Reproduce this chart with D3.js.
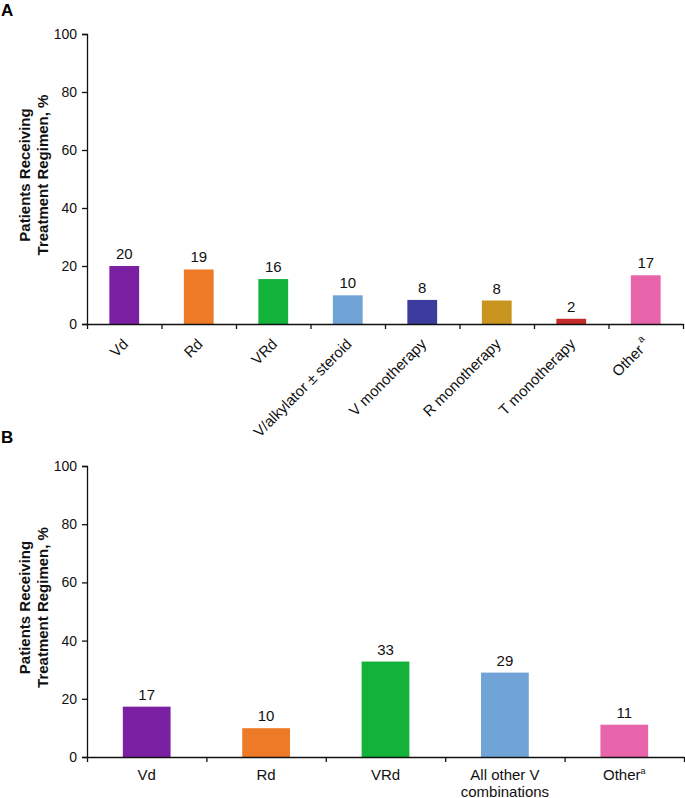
<!DOCTYPE html>
<html>
<head>
<meta charset="utf-8">
<script src="https://cdn.jsdelivr.net/npm/d3@7"></script>
<style>
  body { margin: 0; background: #fff; }
  svg { display: block; font-family: "Liberation Sans", Arial, sans-serif; }
</style>
</head>
<body>
<svg id="chart" width="685" height="798"></svg>
<script>
// ---- Data ----
const categoriesA = ["Vd", "Rd", "VRd", "V/alkylator \u00B1 steroid", "V monotherapy", "R monotherapy", "T monotherapy", "Other"];
const valuesA = [20, 19, 16, 10, 8, 8, 2, 17];
const barHeightsA = [20, 18.8, 15.5, 9.9, 8.3, 8.1, 1.8, 16.8];
const colorsA = ["#7b1fa3", "#ee7a28", "#13b23a", "#70a4d7", "#3c3b9e", "#c9951f", "#c42a2a", "#e864ab"];

const categoriesB = [["Vd"], ["Rd"], ["VRd"], ["All other V", "combinations"], ["Other"]];
const valuesB = [17, 10, 33, 29, 11];
const barHeightsB = [17.3, 9.9, 32.8, 29, 11.1];
const colorsB = ["#7b1fa3", "#ee7a28", "#13b23a", "#70a4d7", "#e864ab"];

const yTicks = [0, 20, 40, 60, 80, 100];
const yTitle = ["Patients Receiving", "Treatment Regimen, %"];
const panelLabels = ["A", "B"];

const svg = d3.select("#chart");

function drawPanel(cfg) {
  const g = svg.append("g");
  const y = d3.scaleLinear().domain([0, 100]).range([cfg.y0, cfg.y100]);
  const x = d3.scaleBand().domain(d3.range(cfg.values.length))
    .range([cfg.x0, cfg.x1]).paddingInner(0.6).paddingOuter(0.3);
  const xt = d3.scaleLinear().domain([0, cfg.values.length]).range([cfg.x0, cfg.x1]);

  // panel letter
  g.append("text").attr("x", 1).attr("y", cfg.letterY)
    .attr("font-size", 17).attr("font-weight", "bold").text(cfg.letter);

  // bars
  g.selectAll("rect.bar").data(cfg.heights).join("rect")
    .attr("x", (d, i) => x(i)).attr("width", x.bandwidth())
    .attr("y", d => y(d)).attr("height", d => y(0) - y(d))
    .attr("fill", (d, i) => cfg.colors[i]);

  // value labels
  g.selectAll("text.val").data(cfg.values).join("text")
    .attr("x", (d, i) => x(i) + x.bandwidth() / 2)
    .attr("y", (d, i) => y(cfg.heights[i]) - 7)
    .attr("text-anchor", "middle").attr("font-size", 15).attr("fill", "#111")
    .text(d => d);

  // y axis
  const ya = g.append("g").attr("transform", `translate(${cfg.x0},0)`)
    .call(d3.axisLeft(y).tickValues(yTicks).tickSizeOuter(0).tickSize(5).tickPadding(5));
  ya.selectAll("text").attr("font-size", 14).attr("fill", "#111").style("font-family", "Liberation Sans, Arial, sans-serif");
  ya.selectAll("line,path").attr("stroke", "#111").attr("stroke-width", 1.3);

  // x axis with boundary ticks
  const xa = g.append("g").attr("transform", `translate(0,${cfg.y0})`)
    .call(d3.axisBottom(xt).tickValues(d3.range(cfg.values.length + 1)).tickFormat("").tickSize(5).tickSizeOuter(0));
  xa.selectAll("line,path").attr("stroke", "#111").attr("stroke-width", 1.3);

  // y title
  const cy = (cfg.y0 + cfg.y100) / 2 - 4;
  yTitle.forEach((t, k) => {
    g.append("text")
      .attr("transform", `translate(${30 + k * 18},${cy}) rotate(-90)`)
      .attr("text-anchor", "middle").attr("font-size", 15).attr("font-weight", "bold")
      .attr("fill", "#111").text(t);
  });
  return {g, x};
}

// Panel A
const pA = drawPanel({letter: panelLabels[0], letterY: 16, values: valuesA, heights: barHeightsA, colors: colorsA,
  x0: 87, x1: 683, y0: 324, y100: 34});
categoriesA.forEach((c, i) => {
  const cx = pA.x(i) + pA.x.bandwidth() / 2;
  const t = pA.g.append("text")
    .attr("transform", `translate(${cx + 5},${345}) rotate(-45)`)
    .attr("text-anchor", "end").attr("font-size", 15).attr("fill", "#111");
  t.append("tspan").text(c);
  if (i === categoriesA.length - 1) {
    t.append("tspan").attr("font-size", 10).attr("dx", 3).attr("dy", -8).text("a");
  }
});

// Panel B
const pB = drawPanel({letter: panelLabels[1], letterY: 443, values: valuesB, heights: barHeightsB, colors: colorsB,
  x0: 87, x1: 684, y0: 757, y100: 466});
categoriesB.forEach((lines, i) => {
  const cx = pB.x(i) + pB.x.bandwidth() / 2;
  const t = pB.g.append("text").attr("text-anchor", "middle").attr("font-size", 15).attr("fill", "#111");
  lines.forEach((ln, k) => {
    t.append("tspan").attr("x", cx).attr("y", 780 + k * 16.5).text(ln);
    if (i === categoriesB.length - 1) {
      t.append("tspan").attr("font-size", 9).attr("dy", -6).text("a");
    }
  });
});
</script>
</body>
</html>
